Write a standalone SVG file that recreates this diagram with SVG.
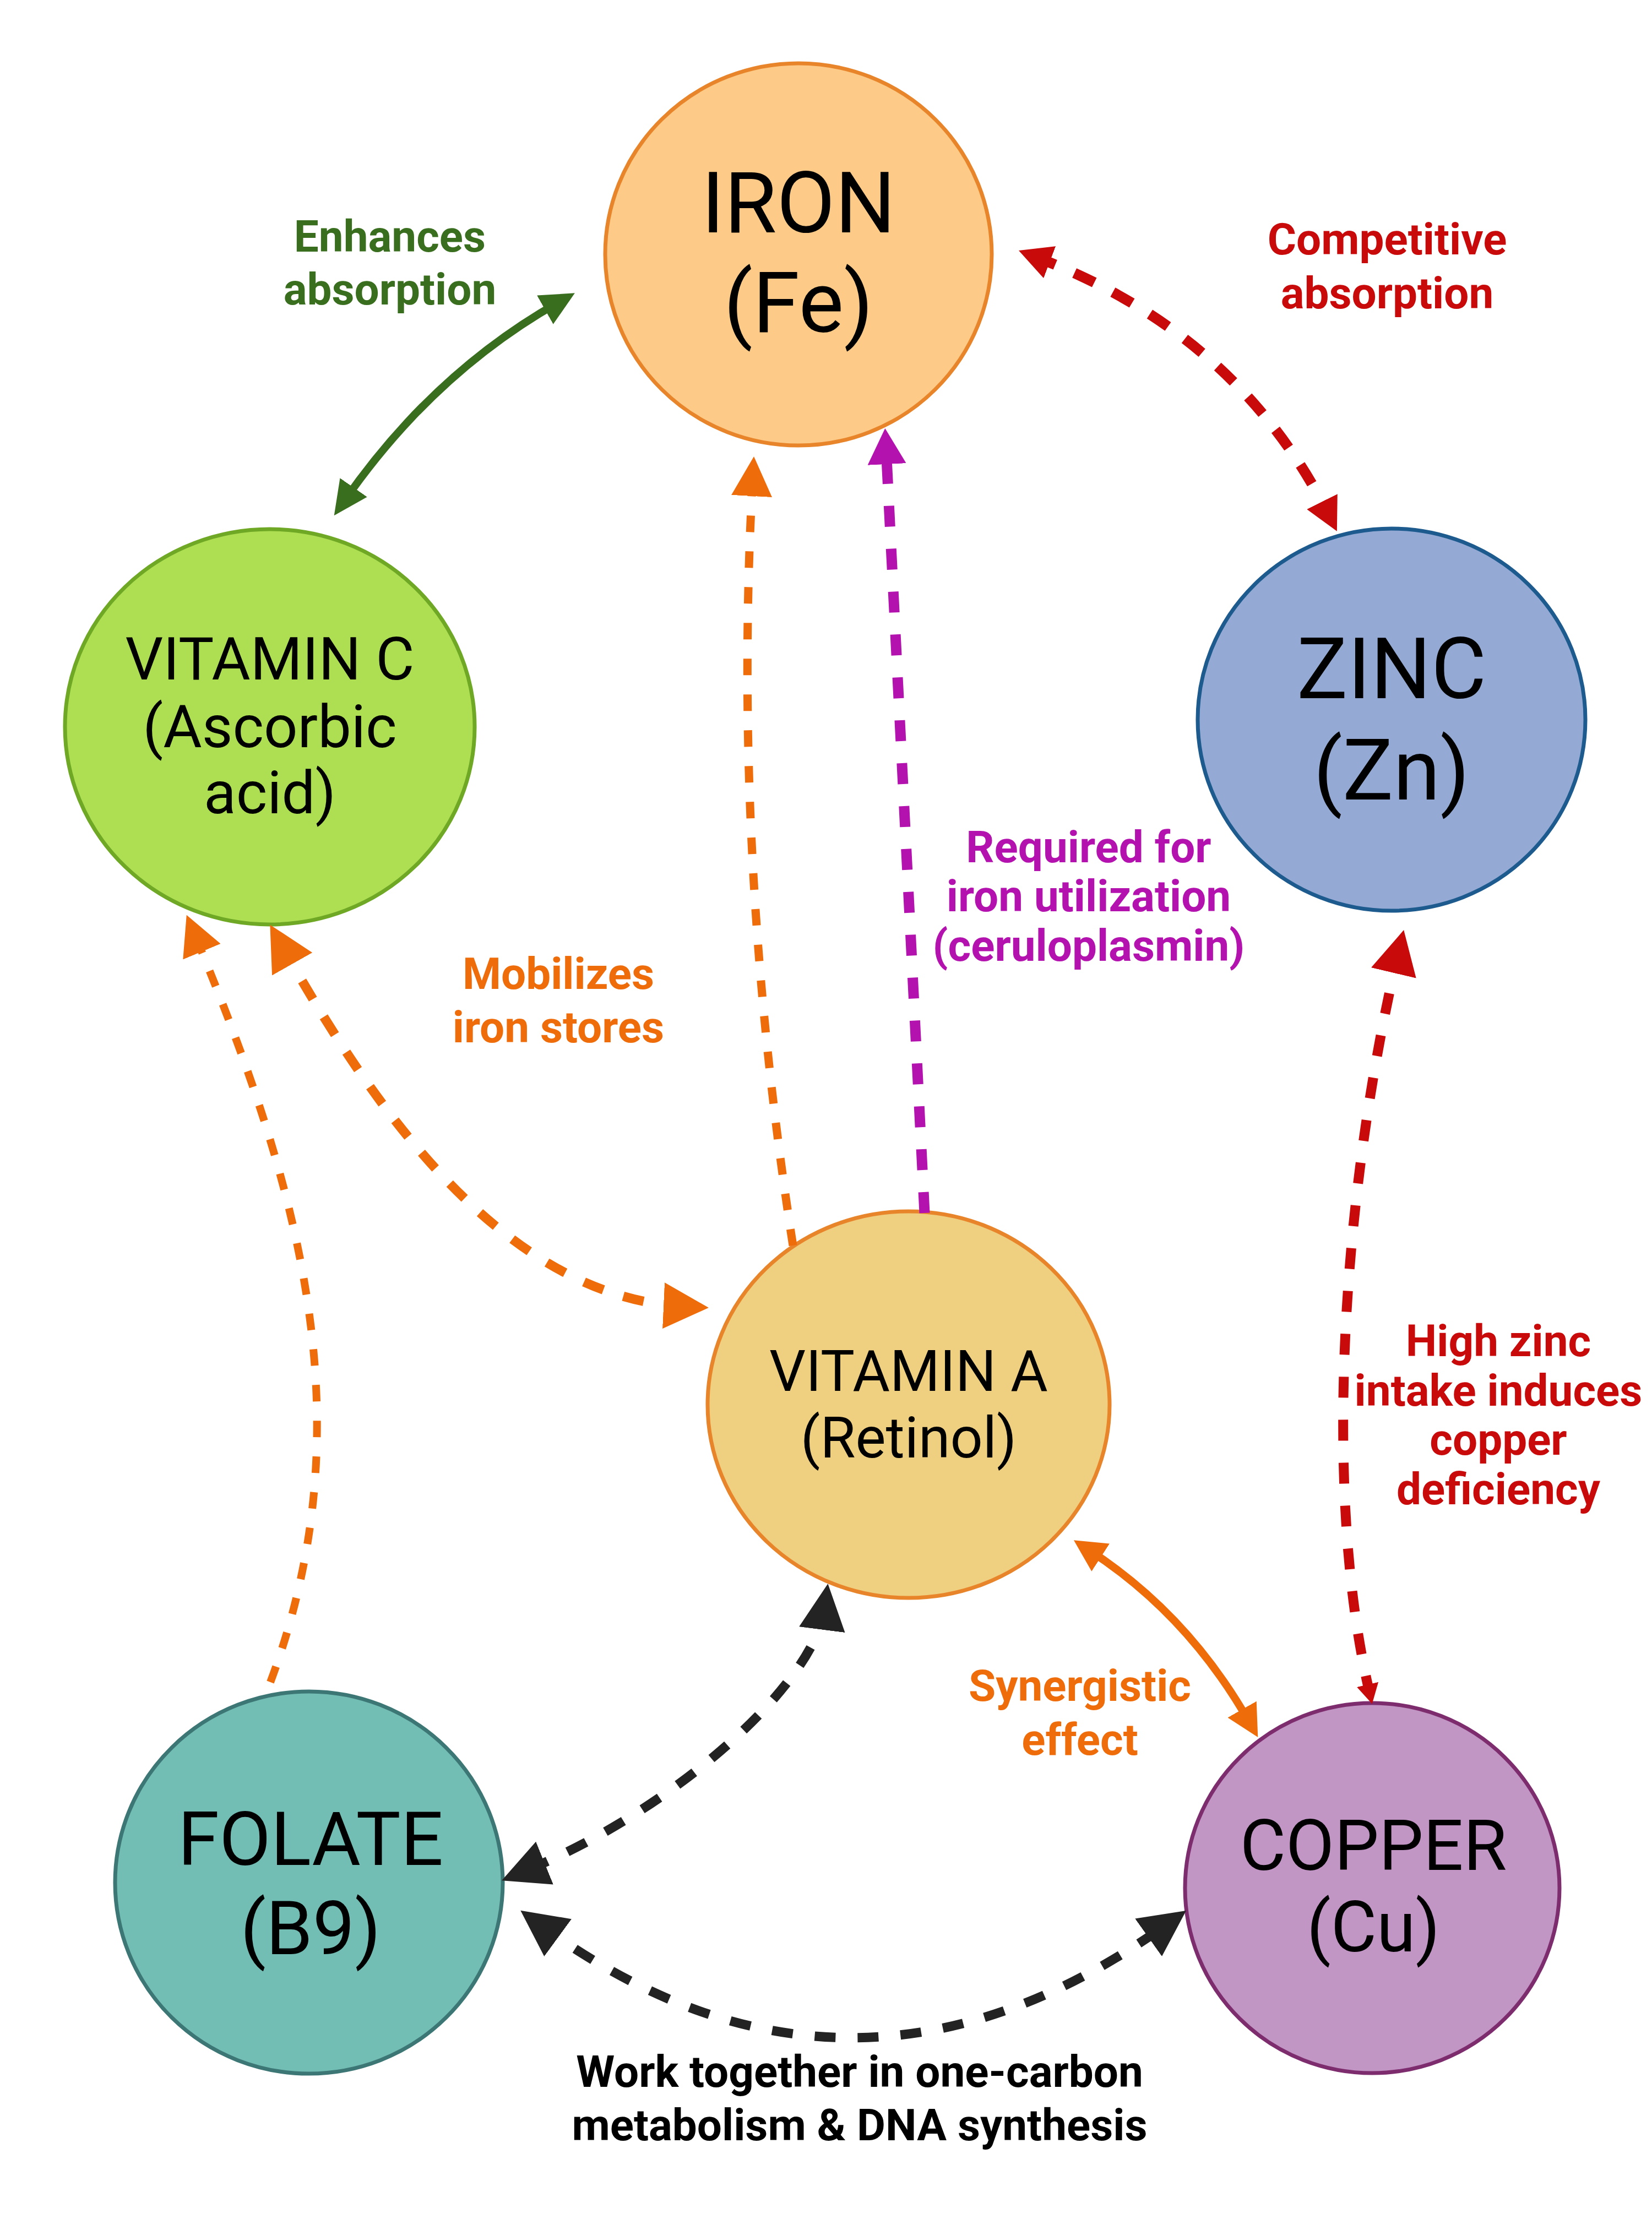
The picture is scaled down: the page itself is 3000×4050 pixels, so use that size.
<svg xmlns="http://www.w3.org/2000/svg" width="3000" height="4050" viewBox="0 0 3000 4050">
<style>
.node-label{font-family:Roboto,"Liberation Sans",Arial,sans-serif;font-weight:400;fill:#000;text-anchor:middle}
.lbl{font-family:Roboto,"Liberation Sans",Arial,sans-serif;font-weight:700;text-anchor:middle;font-size:80px}
.conn{fill:none;stroke-linecap:butt}
</style>
<defs>
<marker id="mG" markerUnits="userSpaceOnUse" viewBox="0 0 62 60" markerWidth="62" markerHeight="60" refX="30" refY="30" orient="auto-start-reverse"><path d="M0,0 L62,30 L0,60 z" fill="#3A6E1F"/></marker>
<marker id="mR" markerUnits="userSpaceOnUse" viewBox="0 0 60 62" markerWidth="60" markerHeight="62" refX="29" refY="31" orient="auto-start-reverse"><path d="M0,0 L60,31 L0,62 z" fill="#C80A0A"/></marker>
<marker id="mRbig" markerUnits="userSpaceOnUse" viewBox="0 0 80 84" markerWidth="80" markerHeight="84" refX="40" refY="42" orient="auto-start-reverse"><path d="M0,0 L80,42 L0,84 z" fill="#C80A0A"/></marker>
<marker id="mRsmall" markerUnits="userSpaceOnUse" viewBox="0 0 36 40" markerWidth="36" markerHeight="40" refX="15" refY="20" orient="auto-start-reverse"><path d="M0,0 L36,20 L0,40 z" fill="#C80A0A"/></marker>
<marker id="mO" markerUnits="userSpaceOnUse" viewBox="0 0 72 74" markerWidth="72" markerHeight="74" refX="35" refY="37" orient="auto-start-reverse"><path d="M0,0 L72,37 L0,74 z" fill="#EF6C0B"/></marker>
<marker id="mO2" markerUnits="userSpaceOnUse" viewBox="0 0 82 84" markerWidth="82" markerHeight="84" refX="40" refY="42" orient="auto-start-reverse"><path d="M0,0 L82,42 L0,84 z" fill="#EF6C0B"/></marker>
<marker id="mOs" markerUnits="userSpaceOnUse" viewBox="0 0 58 60" markerWidth="58" markerHeight="60" refX="27" refY="30" orient="auto-start-reverse"><path d="M0,0 L58,30 L0,60 z" fill="#EF6C0B"/></marker>
<marker id="mM" markerUnits="userSpaceOnUse" viewBox="0 0 65 70" markerWidth="65" markerHeight="70" refX="31" refY="35" orient="auto-start-reverse"><path d="M0,0 L65,35 L0,70 z" fill="#B312AF"/></marker>
<marker id="mK" markerUnits="userSpaceOnUse" viewBox="0 0 84 84" markerWidth="84" markerHeight="84" refX="41" refY="42" orient="auto-start-reverse"><path d="M0,0 L84,42 L0,84 z" fill="#232323"/></marker>
</defs>
<rect width="3000" height="4050" fill="#ffffff"/>

<g id="node-iron">
<ellipse cx="1450" cy="462" rx="351" ry="347" fill="#FDCB87" stroke="#E8852B" stroke-width="7"/>
<text class="node-label" x="1450" y="422" font-size="154">IRON</text>
<text class="node-label" x="1450" y="603" font-size="154">(Fe)</text>
</g>
<g id="node-vitamin-c">
<ellipse cx="490" cy="1320" rx="372" ry="359" fill="#AEDE52" stroke="#6EA824" stroke-width="7"/>
<text class="node-label" x="490" y="1234" font-size="108">VITAMIN C</text>
<text class="node-label" x="490" y="1357" font-size="108">(Ascorbic</text>
<text class="node-label" x="490" y="1477" font-size="108">acid)</text>
</g>
<g id="node-zinc">
<ellipse cx="2527" cy="1307" rx="352" ry="347" fill="#94AAD4" stroke="#1D5A8E" stroke-width="7"/>
<text class="node-label" x="2527" y="1268" font-size="154">ZINC</text>
<text class="node-label" x="2527" y="1452" font-size="154">(Zn)</text>
</g>
<g id="node-vitamin-a">
<ellipse cx="1650" cy="2551" rx="365" ry="351" fill="#EFD080" stroke="#E8852B" stroke-width="7"/>
<text class="node-label" x="1650" y="2526" font-size="104">VITAMIN A</text>
<text class="node-label" x="1650" y="2647" font-size="104">(Retinol)</text>
</g>
<g id="node-folate">
<ellipse cx="561" cy="3419" rx="352" ry="347" fill="#72BEB5" stroke="#3C7775" stroke-width="7"/>
<text class="node-label" x="564" y="3387" font-size="136">FOLATE</text>
<text class="node-label" x="564" y="3549" font-size="136">(B9)</text>
</g>
<g id="node-copper">
<ellipse cx="2492" cy="3429" rx="340" ry="336" fill="#C195C4" stroke="#7D2D6E" stroke-width="7"/>
<text class="node-label" x="2494" y="3396" font-size="128">COPPER</text>
<text class="node-label" x="2494" y="3544" font-size="128">(Cu)</text>
</g>

<g id="connectors">
<path class="conn" d="M625,910 Q787,677 1016,548" stroke="#3A6E1F" stroke-width="14" marker-start="url(#mG)" marker-end="url(#mG)"/>
<path class="conn" d="M1879,466 Q2248,605 2414,937" stroke="#C80A0A" stroke-width="19" stroke-dasharray="40 38" marker-start="url(#mR)" marker-end="url(#mR)"/>
<path class="conn" d="M1440,2262 Q1329,1547 1367,866" stroke="#EF6C0B" stroke-width="15" stroke-dasharray="30 35" marker-end="url(#mO)"/>
<path class="conn" d="M1679,2203 L1609,812" stroke="#B312AF" stroke-width="19" stroke-dasharray="38 40" marker-end="url(#mM)"/>
<path class="conn" d="M491,3055 C666,2585 545,2157 353,1696" stroke="#EF6C0B" stroke-width="14" stroke-dasharray="30 35" marker-end="url(#mO)"/>
<path class="conn" d="M511,1716 C656,1973 899,2357 1245,2373" stroke="#EF6C0B" stroke-width="17" stroke-dasharray="38 38" marker-start="url(#mO2)" marker-end="url(#mO2)"/>
<path class="conn" d="M1976,2814 Q2157,2931 2269,3128" stroke="#EF6C0B" stroke-width="14" marker-start="url(#mOs)" marker-end="url(#mOs)"/>
<path class="conn" d="M1498,2919 C1480,3060 1220,3290 951,3399" stroke="#232323" stroke-width="17" stroke-dasharray="38 40" marker-start="url(#mK)" marker-end="url(#mK)"/>
<path class="conn" d="M980,3495 C1359,3772 1737,3767 2119,3495" stroke="#232323" stroke-width="17" stroke-dasharray="38 40" marker-start="url(#mK)" marker-end="url(#mK)"/>
<path class="conn" d="M2540,1728 C2440,2150 2400,2700 2487,3074" stroke="#C80A0A" stroke-width="18" stroke-dasharray="38 40" marker-start="url(#mRbig)" marker-end="url(#mRsmall)"/>
</g>

<g id="labels">
<text class="lbl" x="708" y="457" fill="#3A6E1F">Enhances</text>
<text class="lbl" x="708" y="553" fill="#3A6E1F">absorption</text>
<text class="lbl" x="2519" y="462" fill="#C80A0A">Competitive</text>
<text class="lbl" x="2519" y="560" fill="#C80A0A">absorption</text>
<text class="lbl" x="1977" y="1566" fill="#B312AF" font-size="76">Required for</text>
<text class="lbl" x="1977" y="1655" fill="#B312AF" font-size="76">iron utilization</text>
<text class="lbl" x="1977" y="1745" fill="#B312AF" font-size="76">(ceruloplasmin)</text>
<text class="lbl" x="1014" y="1796" fill="#EF6C0B">Mobilizes</text>
<text class="lbl" x="1014" y="1893" fill="#EF6C0B">iron stores</text>
<text class="lbl" x="2721" y="2463" fill="#C80A0A" font-size="76">High zinc</text>
<text class="lbl" x="2721" y="2553" fill="#C80A0A" font-size="76">intake induces</text>
<text class="lbl" x="2721" y="2642" fill="#C80A0A" font-size="76">copper</text>
<text class="lbl" x="2721" y="2732" fill="#C80A0A" font-size="76">deficiency</text>
<text class="lbl" x="1961" y="3089" fill="#EF6C0B">Synergistic</text>
<text class="lbl" x="1961" y="3187" fill="#EF6C0B">effect</text>
<text class="lbl" x="1561" y="3790" fill="#000000">Work together in one-carbon</text>
<text class="lbl" x="1561" y="3887" fill="#000000">metabolism &amp; DNA synthesis</text>
</g>
</svg>
